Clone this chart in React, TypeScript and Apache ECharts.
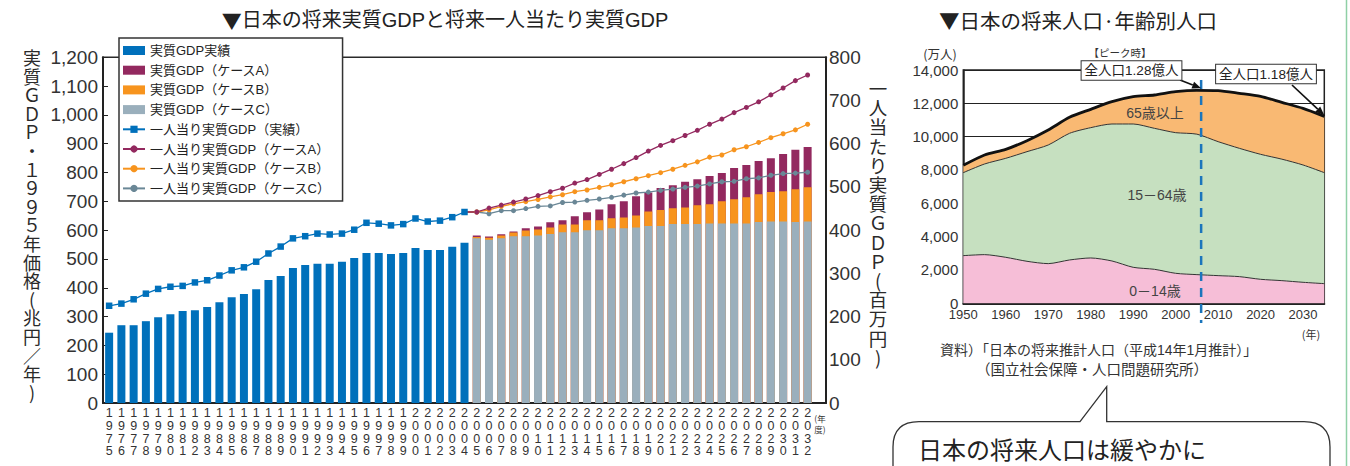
import React, { useEffect, useRef } from "react";
import * as echarts from "echarts";

const FONT = "'Liberation Sans', 'Noto Sans CJK JP', sans-serif";
const JP = "'Noto Sans CJK JP', 'Liberation Sans', sans-serif";

// ---------- Left chart data ----------
const years = Array.from({ length: 58 }, (_, i) => String(1975 + i)); // 1975..2032
const categories = [...years, ""];

// 実質GDP実績 1975-2004 (兆円)
const gdpActual = [244, 270, 270, 284, 298, 308, 319, 322, 333, 350, 367, 378, 395, 427, 441, 469, 479, 483, 483, 490, 503, 521, 521, 517, 521, 538, 531, 531, 542, 556];
// 実質GDP projections 2005-2032 (兆円, bar tops)
const gdpCaseA = [581, 578, 586, 595, 607, 613, 627, 634, 648, 662, 672, 690, 700, 718, 731, 746, 756, 768, 777, 788, 798, 816, 826, 840, 850, 864, 879, 889];
const gdpCaseB = [576, 574, 581, 592, 599, 602, 609, 620, 620, 634, 634, 641, 644, 651, 665, 670, 676, 679, 686, 690, 700, 707, 714, 725, 732, 735, 742, 749];
const gdpCaseC = [572, 567, 572, 579, 579, 581, 587, 593, 593, 600, 600, 607, 607, 609, 614, 614, 621, 621, 621, 623, 623, 623, 623, 628, 630, 630, 628, 630];

// 一人当り実質GDP (万円) 1975-2004
const perCapitaActual = [225, 230, 240, 253, 264, 269, 271, 279, 284, 295, 307, 314, 327, 346, 362, 381, 386, 392, 390, 392, 401, 417, 415, 411, 414, 427, 420, 422, 430, 442];
// projections 2005-2032
const perCapitaA = [442, 451, 458, 465, 472, 480, 489, 497, 509, 517, 529, 541, 554, 568, 583, 596, 607, 619, 631, 645, 657, 672, 684, 697, 713, 729, 746, 759];
const perCapitaB = [442, 447, 455, 461, 466, 471, 477, 482, 489, 493, 499, 505, 512, 519, 526, 533, 541, 550, 558, 569, 574, 586, 593, 603, 614, 623, 632, 645];
const perCapitaC = [442, 438, 445, 445, 450, 455, 456, 464, 465, 469, 472, 476, 481, 486, 488, 492, 495, 499, 502, 507, 512, 513, 519, 521, 527, 531, 532, 534];

const leftTicks = { min: 0, max: 1200, interval: 100 };
const rightTicks = { min: 0, max: 800, interval: 100 };

// ---------- Right chart data ----------
const popYears = ["1950", "1955", "1960", "1965", "1970", "1975", "1980", "1985", "1990", "1995", "2000", "2005", "2010", "2015", "2020", "2025", "2030", "2035"];
const pop0to14 = [2860, 2920, 2760, 2520, 2380, 2600, 2720, 2540, 2160, 2040, 1800, 1720, 1660, 1600, 1440, 1360, 1260, 1180];
const pop15to64 = [4980, 5440, 5940, 6580, 7120, 7600, 7820, 8220, 8600, 8460, 8440, 8430, 8040, 7700, 7500, 7290, 7040, 6660];
const pop65plus = [440, 540, 540, 660, 900, 960, 1100, 1340, 1640, 2000, 2460, 2630, 3060, 3300, 3480, 3410, 3400, 3380];
const peakTotal = 12780;
const endTotal = 11220;

const NAMES = {
  gdpActual: "実質GDP実績",
  gdpA: "実質GDP（ケースA）",
  gdpB: "実質GDP（ケースB）",
  gdpC: "実質GDP（ケースC）",
  pcActual: "一人当り実質GDP（実績）",
  pcA: "一人当り実質GDP（ケースA）",
  pcB: "一人当り実質GDP（ケースB）",
  pcC: "一人当り実質GDP（ケースC）",
};

const COLORS = {
  blue: "#0070BB",
  purple: "#93295F",
  orange: "#F7941E",
  gray: "#9AAFBC",
  grayLine: "#6A8796",
  pink: "#F6BED7",
  green: "#C6E0C0",
  peach: "#F9B973",
};

const BUBBLE_D =
  "M893,470 L893,447 Q893,421.7 919,421.7 L1080,421.7 L1106.7,386.7 L1106.7,421.7 L1304,421.7 Q1330,421.7 1330,447 L1330,470";
echarts.graphic.registerShape("bubble", echarts.graphic.extendPath(BUBBLE_D, {}));

const pad = (n: number) => Array(n).fill(null);

function arrow(x1: number, y1: number, x2: number, y2: number) {
  const dx = x2 - x1;
  const dy = y2 - y1;
  const len = Math.hypot(dx, dy);
  const ux = dx / len;
  const uy = dy / len;
  const hl = 9;
  const hw = 3.6;
  const bx = x2 - ux * hl;
  const by = y2 - uy * hl;
  return [
    { type: "line", z: 60, shape: { x1, y1, x2: bx, y2: by }, style: { stroke: "#111", lineWidth: 1.7 } },
    {
      type: "polygon",
      z: 60,
      shape: { points: [[x2, y2], [bx - uy * hw, by + ux * hw], [bx + uy * hw, by - ux * hw]] },
      style: { fill: "#111" },
    },
  ];
}

function vertical(chars: string[], x: number, firstCenter: number, lh: number, fs: number) {
  return {
    type: "text",
    z: 50,
    x,
    y: firstCenter - lh / 2,
    style: {
      text: chars.join("\n"),
      fontSize: fs,
      fontFamily: JP,
      fill: "#2a2a2a",
      align: "center",
      verticalAlign: "top",
      lineHeight: lh,
    },
  };
}

export default function App() {
  const ref = useRef<HTMLDivElement>(null);

  useEffect(() => {
    const chart = echarts.init(ref.current!, null, { renderer: "svg" });

    const caseLine = (name: string, vals: number[], color: string) => ({
      name,
      type: "line",
      xAxisIndex: 0,
      yAxisIndex: 1,
      symbol: "circle",
      symbolSize: 5,
      itemStyle: { color },
      lineStyle: { color, width: 1.3 },
      data: [...pad(29), { value: perCapitaActual[29], symbol: "none" }, ...vals, null],
      z: 5,
    });

    const barSeries = (name: string, data: (number | null)[], color: string) => ({
      name,
      type: "bar",
      xAxisIndex: 0,
      yAxisIndex: 0,
      barWidth: 8,
      barGap: "-100%",
      itemStyle: { color },
      data,
    });

    const popSeries = (name: string, vals: number[], fill: string, stroke: string, w: number) => ({
      name,
      type: "line",
      xAxisIndex: 1,
      yAxisIndex: 2,
      stack: "pop",
      symbol: "none",
      smooth: 0.25,
      areaStyle: { color: fill, opacity: 1 },
      lineStyle: { color: stroke, width: w },
      data: vals,
    });

    const option: any = {
      animation: false,
      backgroundColor: "#fff",
      textStyle: { fontFamily: FONT },
      legend: {
        left: 119,
        top: 38,
        orient: "vertical",
        itemWidth: 22,
        itemHeight: 9,
        itemGap: 6.7,
        padding: [6, 12, 6, 3],
        borderColor: "#333",
        borderWidth: 1.5,
        backgroundColor: "#fff",
        selectedMode: false,
        z: 20,
        textStyle: { fontSize: 13, color: "#222", fontFamily: FONT },
        data: [
          { name: NAMES.gdpActual, icon: "rect" },
          { name: NAMES.gdpA, icon: "rect" },
          { name: NAMES.gdpB, icon: "rect" },
          { name: NAMES.gdpC, icon: "rect" },
          NAMES.pcActual,
          NAMES.pcA,
          NAMES.pcB,
          NAMES.pcC,
        ],
      },
      grid: [
        { left: 103, right: 524, top: 57.3, bottom: 63, show: true, borderColor: "#2a2a2a", borderWidth: 1.5, outerBoundsMode: "none", containLabel: false },
        { left: 963.3, right: 25.7, top: 70, bottom: 162.7, show: true, borderColor: "#222", borderWidth: 1.5, outerBoundsMode: "none", containLabel: false },
      ],
      xAxis: [
        {
          type: "category",
          gridIndex: 0,
          data: categories,
          axisLine: { lineStyle: { color: "#222", width: 2 } },
          axisTick: { show: false },
          axisLabel: {
            interval: 0,
            margin: 4,
            fontSize: 12.5,
            lineHeight: 12.7,
            color: "#333",
            fontFamily: FONT,
            formatter: (v: string) => v.split("").join("\n"),
          },
        },
        {
          type: "category",
          gridIndex: 1,
          data: popYears,
          boundaryGap: false,
          axisLine: { lineStyle: { color: "#222", width: 2 } },
          axisTick: { inside: true, length: 4, interval: 0, lineStyle: { color: "#222", width: 1 } },
          splitLine: { show: false },
          axisLabel: { interval: 1, fontSize: 13, color: "#333", margin: 5, fontFamily: FONT },
        },
      ],
      yAxis: [
        {
          type: "value",
          gridIndex: 0,
          ...leftTicks,
          axisLine: { show: true, lineStyle: { color: "#222", width: 2 } },
          axisTick: { show: true, inside: true, length: 5, lineStyle: { color: "#222" } },
          splitLine: { show: false },
          axisLabel: { fontSize: 19, color: "#333", margin: 5, fontFamily: FONT, formatter: (v: number) => v.toLocaleString("en-US") },
        },
        {
          type: "value",
          gridIndex: 0,
          position: "right",
          ...rightTicks,
          axisLine: { show: true, lineStyle: { color: "#222", width: 2 } },
          axisTick: { show: false },
          splitLine: { show: false },
          axisLabel: { fontSize: 19, color: "#333", margin: 3, fontFamily: FONT },
        },
        {
          type: "value",
          gridIndex: 1,
          min: 0,
          max: 14000,
          interval: 2000,
          axisLine: { show: true, lineStyle: { color: "#222", width: 1.5 } },
          axisTick: { show: false },
          splitLine: { show: true, lineStyle: { color: "#222", width: 1 } },
          axisLabel: { fontSize: 15, color: "#333", margin: 5, fontFamily: FONT, formatter: (v: number) => v.toLocaleString("en-US") },
        },
      ],
      series: [
        barSeries(NAMES.gdpA, [...pad(30), ...gdpCaseA, null], COLORS.purple),
        barSeries(NAMES.gdpB, [...pad(30), ...gdpCaseB, null], COLORS.orange),
        barSeries(NAMES.gdpC, [...pad(30), ...gdpCaseC, null], COLORS.gray),
        barSeries(NAMES.gdpActual, [...gdpActual, ...pad(29)], COLORS.blue),
        {
          name: NAMES.pcActual,
          type: "line",
          xAxisIndex: 0,
          yAxisIndex: 1,
          symbol: "rect",
          symbolSize: 6.5,
          itemStyle: { color: COLORS.blue },
          lineStyle: { color: COLORS.blue, width: 1.3 },
          data: [...perCapitaActual, ...pad(29)],
          z: 6,
        },
        caseLine(NAMES.pcC, perCapitaC, COLORS.grayLine),
        caseLine(NAMES.pcB, perCapitaB, COLORS.orange),
        caseLine(NAMES.pcA, perCapitaA, COLORS.purple),
        popSeries("0−14歳", pop0to14, COLORS.pink, "#333", 1),
        popSeries("15−64歳", pop15to64, COLORS.green, "#333", 1),
        popSeries("65歳以上", pop65plus, COLORS.peach, "#111", 2.8),
      ],
    };

    chart.setOption(option);

    const finder = { seriesIndex: 8 };
    const p2005 = chart.convertToPixel(finder, ["2005", peakTotal]) as number[];
    const p2010 = chart.convertToPixel(finder, ["2010", peakTotal]) as number[];
    const peakX = p2005[0] + (p2010[0] - p2005[0]) * 0.2; // 2006
    const tip1 = [peakX, p2005[1]];
    const tip2 = chart.convertToPixel(finder, ["2035", endTotal]) as number[];

    const graphics: any[] = [
      {
        type: "text",
        z: 50,
        x: 445,
        y: 20,
        style: {
          text: "{a|▼}日本の将来実質GDPと将来一人当たり実質GDP",
          fontSize: 20,
          fontFamily: FONT,
          fill: "#222",
          align: "center",
          verticalAlign: "middle",
          rich: { a: { fontFamily: JP, fontSize: 20, fill: "#222" } },
        },
      },
      {
        type: "text",
        z: 50,
        x: 939,
        y: 20,
        style: { text: "▼日本の将来人口·年齢別人口", fontSize: 20.5, fontFamily: JP, fill: "#222", align: "left", verticalAlign: "middle" },
      },
      vertical(["実", "質", "Ｇ", "Ｄ", "Ｐ", "・", "１", "９", "９", "５", "年", "価", "格", "(", "兆", "円", "／", "年", ")"], 32, 57, 18.6, 18),
      vertical(["一", "人", "当", "た", "り", "実", "質", "Ｇ", "Ｄ", "Ｐ", "(", "百", "万", "円", ")"], 878, 88, 19.2, 18.5),
      {
        type: "text",
        z: 50,
        x: 820,
        y: 412,
        style: { text: "(年\n度)", fontSize: 8.5, lineHeight: 11, fontFamily: JP, fill: "#333", align: "center", verticalAlign: "top" },
      },
      {
        type: "text",
        z: 50,
        x: 940,
        y: 53,
        style: { text: "(万人)", fontSize: 12.5, fontFamily: JP, fill: "#333", align: "center", verticalAlign: "middle" },
      },
      {
        type: "text",
        z: 50,
        x: 1120,
        y: 52,
        style: { text: "【ピーク時】", fontSize: 10.5, fontFamily: JP, fill: "#333", align: "center", verticalAlign: "middle" },
      },
      {
        type: "line",
        z: 55,
        shape: { x1: peakX, y1: 80, x2: peakX, y2: 323 },
        style: { stroke: "#1B75BC", lineWidth: 2.5, lineDash: [9, 7] },
      },
      ...arrow(1180, 80, tip1[0], tip1[1] - 2),
      ...arrow(1292, 85, tip2[0], tip2[1] - 1),
      {
        type: "text",
        z: 65,
        x: 1131.5,
        y: 70.5,
        style: {
          text: "全人口1.28億人",
          fontSize: 13.5,
          fontFamily: FONT,
          fill: "#222",
          align: "center",
          verticalAlign: "middle",
          backgroundColor: "#fff",
          borderColor: "#333",
          borderWidth: 1,
          padding: [3, 3, 2, 3],
        },
      },
      {
        type: "text",
        z: 65,
        x: 1266,
        y: 74,
        style: {
          text: "全人口1.18億人",
          fontSize: 13.5,
          fontFamily: FONT,
          fill: "#222",
          align: "center",
          verticalAlign: "middle",
          backgroundColor: "#fff",
          borderColor: "#333",
          borderWidth: 1,
          padding: [3, 3, 2, 3],
        },
      },
      {
        type: "text",
        z: 50,
        x: 1155,
        y: 113,
        style: { text: "65歳以上", fontSize: 14, fontFamily: FONT, fill: "#444", align: "center", verticalAlign: "middle" },
      },
      {
        type: "text",
        z: 50,
        x: 1157,
        y: 195,
        style: { text: "15－64歳", fontSize: 14, fontFamily: FONT, fill: "#444", align: "center", verticalAlign: "middle" },
      },
      {
        type: "text",
        z: 50,
        x: 1155,
        y: 291,
        style: { text: "0－14歳", fontSize: 14, fontFamily: FONT, fill: "#444", align: "center", verticalAlign: "middle" },
      },
      {
        type: "text",
        z: 50,
        x: 1311,
        y: 334,
        style: { text: "(年)", fontSize: 11, fontFamily: JP, fill: "#333", align: "center", verticalAlign: "middle" },
      },
      {
        type: "text",
        z: 50,
        x: 940,
        y: 350,
        style: { text: "資料）「日本の将来推計人口（平成14年1月推計）」", fontSize: 14, fontFamily: FONT, fill: "#333", align: "left", verticalAlign: "middle" },
      },
      {
        type: "text",
        z: 50,
        x: 976,
        y: 368,
        style: { text: "（国立社会保障・人口問題研究所）", fontSize: 14.5, fontFamily: JP, fill: "#333", align: "left", verticalAlign: "middle" },
      },
      {
        type: "bubble",
        z: 50,
        x: 0,
        y: 0,
        style: { fill: "none", stroke: "#333", lineWidth: 1.3 },
      },
      {
        type: "text",
        z: 50,
        x: 918,
        y: 448,
        style: { text: "日本の将来人口は緩やかに", fontSize: 24, fontFamily: JP, fill: "#222", align: "left", verticalAlign: "middle" },
      },
      {
        type: "line",
        z: 50,
        shape: { x1: 1346.5, y1: 0, x2: 1346.5, y2: 466 },
        style: { stroke: "#8FD0A6", lineWidth: 1.5 },
      },
    ];

    chart.setOption({ graphic: { elements: graphics } });

    return () => chart.dispose();
  }, []);

  return <div ref={ref} style={{ position: "absolute", left: 0, top: 0, width: 1350, height: 466 }} />;
}
